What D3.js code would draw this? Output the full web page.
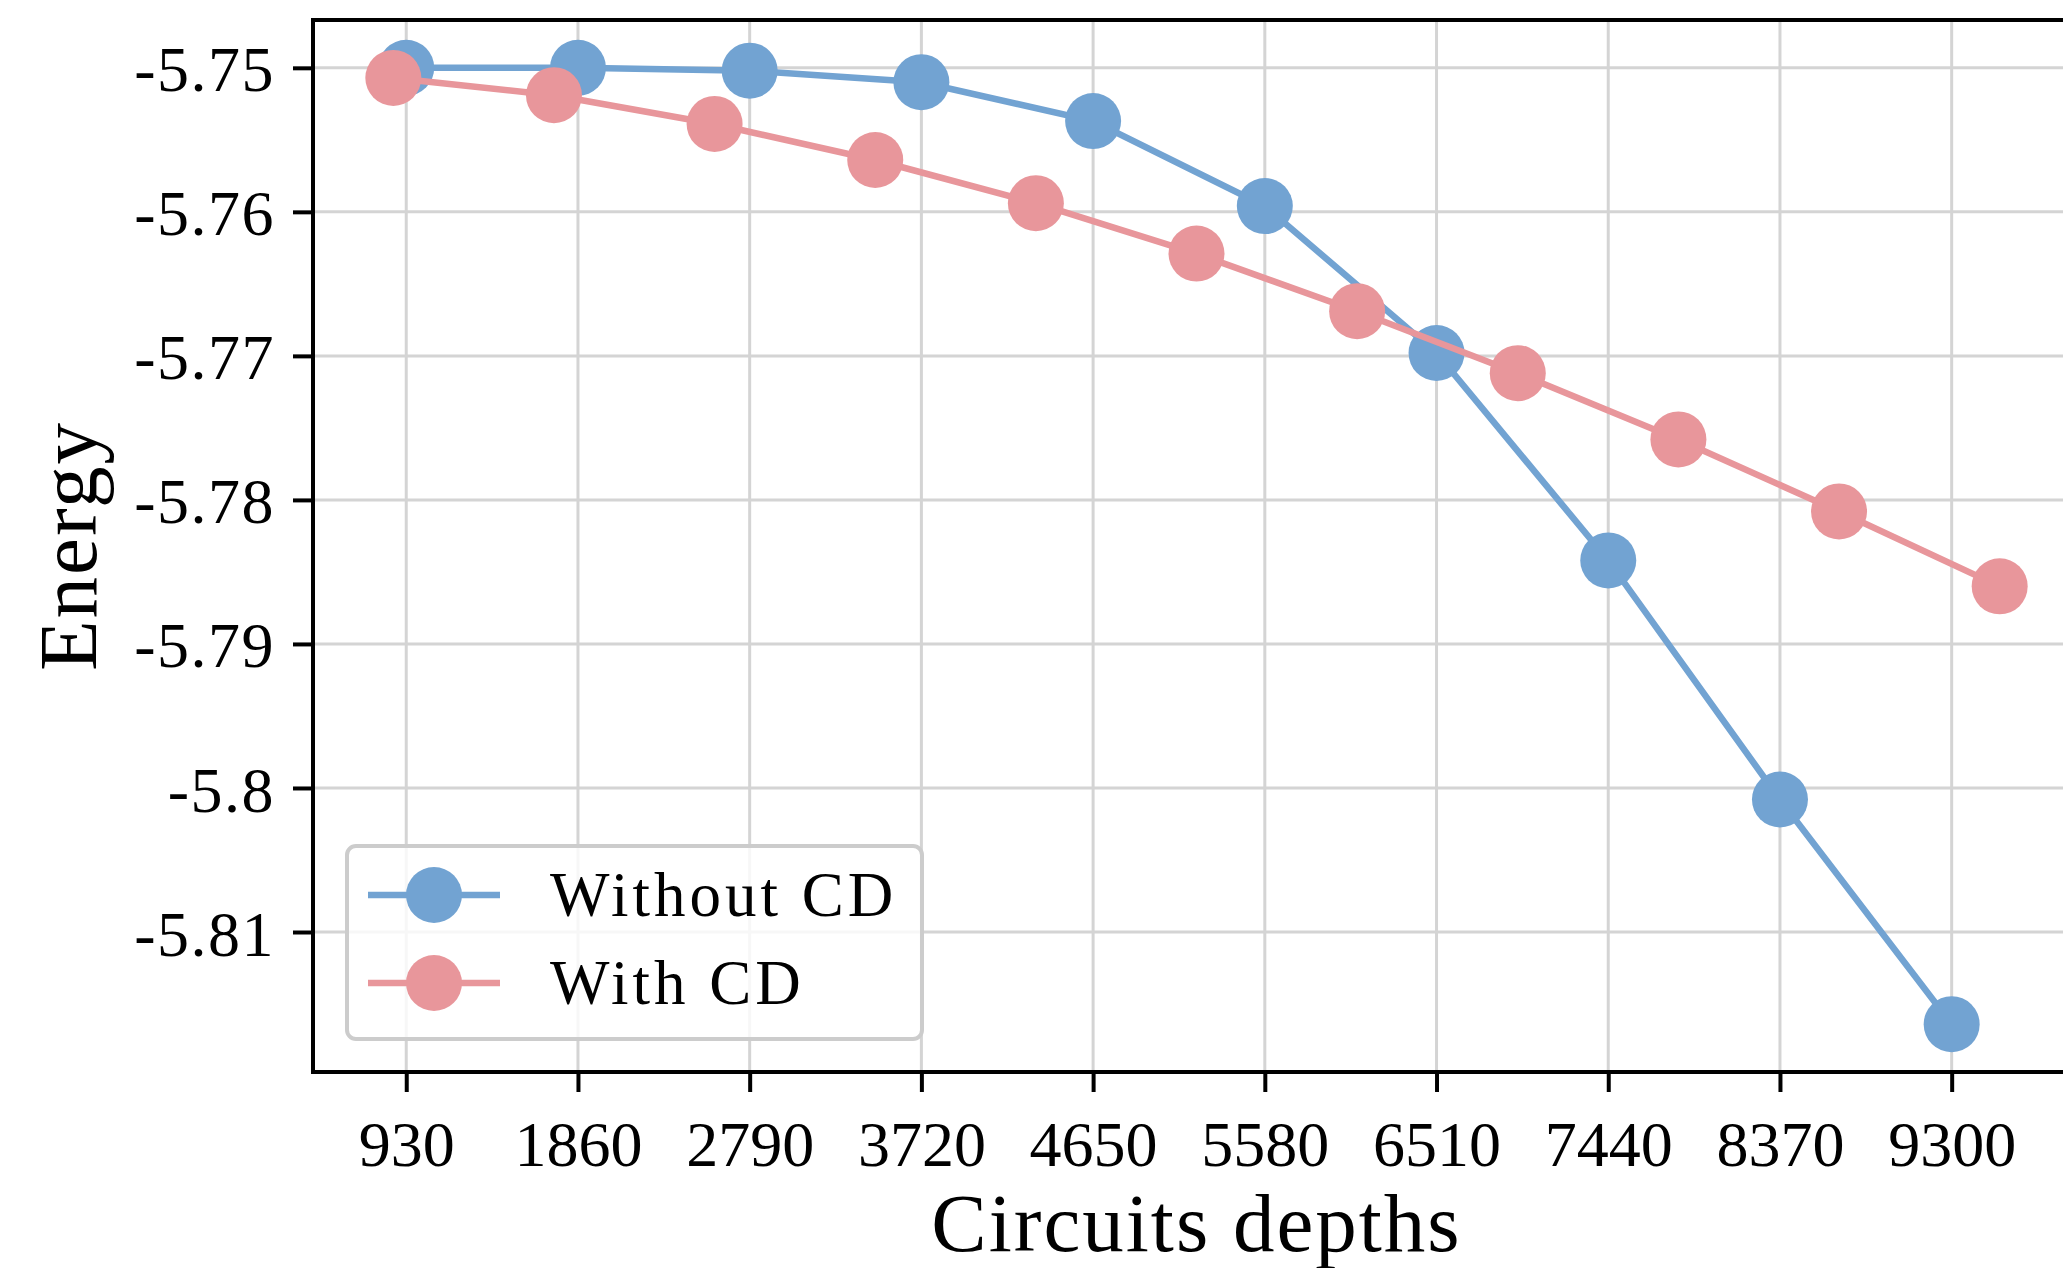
<!DOCTYPE html>
<head>
  <meta charset="UTF-8">
  <title>Energy vs circuit depth</title>
  <script src="https://d3js.org/d3.v7.min.js"></script>
  <style>
    body { margin: 0; background: #fff; }
    text { font-family: "Liberation Serif", "DejaVu Serif", serif; fill: #000; }
  </style>
</head>
<body>
<svg id="mainplot"></svg>
<script>

// values
const depths = [930, 1860, 2790, 3720, 4650, 5580, 6510, 7440, 8370, 9300];
const withoutCD = [-5.7500, -5.7500, -5.7502, -5.7510, -5.7537, -5.7596, -5.7698, -5.7842, -5.8008, -5.8164];
const depthsCD = [860, 1730, 2600, 3470, 4340, 5210, 6080, 6950, 7820, 8690, 9560];
const withCD = [-5.7507, -5.7519, -5.7539, -5.7564, -5.7594, -5.7629, -5.7669, -5.7712, -5.7758, -5.7808, -5.7860];
const yTicks = [-5.75, -5.76, -5.77, -5.78, -5.79, -5.80, -5.81];
const yTickLabels = ["-5.75", "-5.76", "-5.77", "-5.78", "-5.79", "-5.8", "-5.81"];
const seriesNames = ["Without CD", "With CD"];

const blue = "#72a3d2", pink = "#e8969b";

const width = 2063, height = 1268;
const plotLeft = 313, plotRight = 2080, plotTop = 20, plotBottom = 1072;

const x = d3.scaleLinear().domain([425, 9995]).range([plotLeft, plotRight]);
const y = d3.scaleLinear().domain([-5.81972, -5.74668]).range([plotBottom, plotTop]);

const svg = d3.select("#mainplot")
    .attr("width", width)
    .attr("height", height);

// grid
svg.append("g")
  .selectAll("line")
  .data(depths)
  .enter().append("line")
    .attr("x1", d => x(d)).attr("x2", d => x(d))
    .attr("y1", plotTop).attr("y2", plotBottom)
    .attr("stroke", "#d4d4d4").attr("stroke-width", 3);

svg.append("g")
  .selectAll("line")
  .data(yTicks)
  .enter().append("line")
    .attr("x1", plotLeft).attr("x2", plotRight)
    .attr("y1", d => y(d)).attr("y2", d => y(d))
    .attr("stroke", "#d4d4d4").attr("stroke-width", 3);

// axes
const xAxis = svg.append("g")
    .attr("transform", "translate(0," + plotBottom + ")")
    .call(d3.axisBottom(x).tickValues(depths).tickSize(20).tickPadding(29).tickFormat(d3.format("d")));

const yAxis = svg.append("g")
    .attr("transform", "translate(" + plotLeft + ",0)")
    .call(d3.axisLeft(y).tickValues(yTicks).tickSize(20).tickPadding(18).tickFormat((d, i) => yTickLabels[i]));

[xAxis, yAxis].forEach(a => {
  a.select(".domain").remove();
  a.selectAll(".tick line").attr("stroke", "#000").attr("stroke-width", 4);
  a.selectAll(".tick text")
      .attr("font-size", 64)
      .attr("font-family", "Liberation Serif");
});
yAxis.selectAll(".tick text").attr("dy", "0.36em").attr("letter-spacing", 1.5);

// frame
svg.append("rect")
    .attr("x", plotLeft).attr("y", plotTop)
    .attr("width", plotRight - plotLeft).attr("height", plotBottom - plotTop)
    .attr("fill", "none").attr("stroke", "#000").attr("stroke-width", 4);

// series
const line = d3.line();

function drawSeries(xs, ys, color) {
  const pts = xs.map((d, i) => [x(d), y(ys[i])]);
  svg.append("path")
      .attr("d", line(pts))
      .attr("fill", "none")
      .attr("stroke", color)
      .attr("stroke-width", 6.5);
  svg.append("g")
    .selectAll("circle")
    .data(pts)
    .enter().append("circle")
      .attr("cx", d => d[0])
      .attr("cy", d => d[1])
      .attr("r", 28)
      .attr("fill", color);
}

drawSeries(depths, withoutCD, blue);
drawSeries(depthsCD, withCD, pink);

// legend
const legend = svg.append("g");
legend.append("rect")
    .attr("x", 347).attr("y", 846)
    .attr("width", 575).attr("height", 193)
    .attr("rx", 9)
    .attr("fill", "rgba(255,255,255,0.8)")
    .attr("stroke", "#cccccc").attr("stroke-width", 4);

[blue, pink].forEach((c, i) => {
  const ly = 895 + i * 88;
  legend.append("line")
      .attr("x1", 368).attr("x2", 500)
      .attr("y1", ly).attr("y2", ly)
      .attr("stroke", c).attr("stroke-width", 6.5);
  legend.append("circle")
      .attr("cx", 434).attr("cy", ly).attr("r", 28).attr("fill", c);
  legend.append("text")
      .attr("x", 550).attr("y", ly + 21)
      .attr("font-size", 63)
      .attr("letter-spacing", 4)
      .text(seriesNames[i]);
});

// axis labels
svg.append("text")
    .attr("x", (plotLeft + plotRight) / 2).attr("y", 1251)
    .attr("text-anchor", "middle")
    .attr("font-size", 83)
    .attr("letter-spacing", 2)
    .text("Circuits depths");

svg.append("text")
    .attr("transform", "translate(96," + ((plotTop + plotBottom) / 2) + ") rotate(-90)")
    .attr("text-anchor", "middle")
    .attr("font-size", 83)
    .attr("letter-spacing", 2)
    .text("Energy");

</script>
</body>
